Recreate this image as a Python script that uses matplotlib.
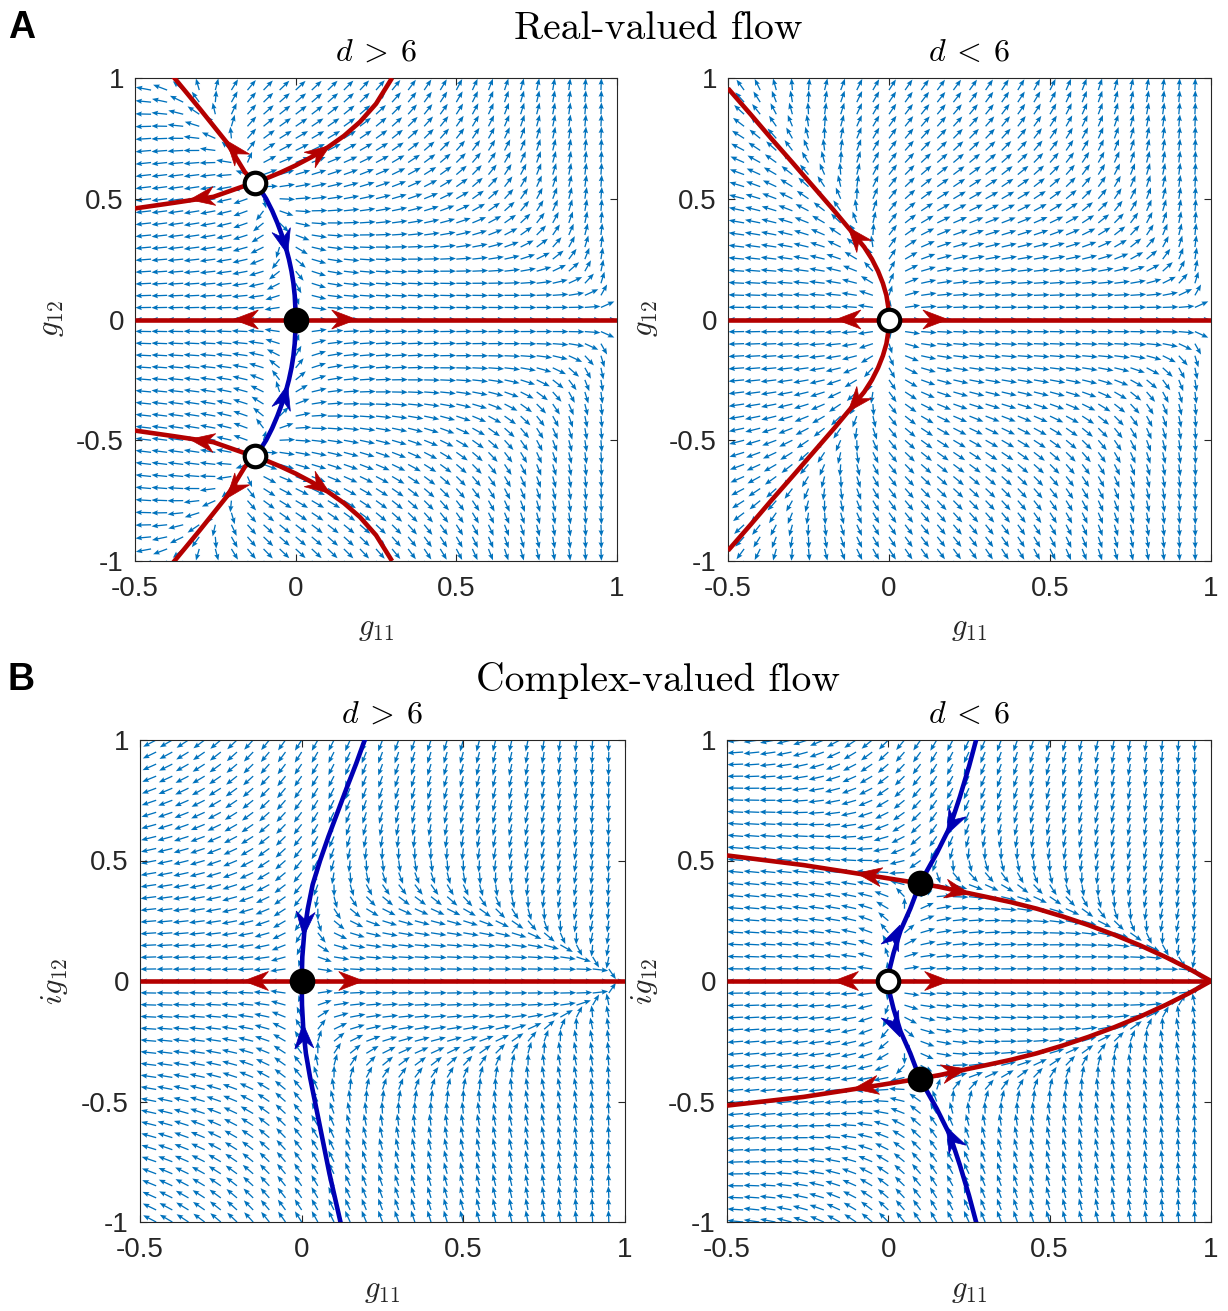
import numpy as np
import matplotlib
matplotlib.use("Agg")
import matplotlib.pyplot as plt
from matplotlib.patches import Polygon

plt.rcParams['mathtext.fontset'] = 'cm'
plt.rcParams['font.family'] = ['Liberation Sans', 'DejaVu Sans']

# ---------------- axes / ticks ----------------
x_lim = [-0.5, 1.0]
y_lim = [-1.0, 1.0]
x_ticks = [-0.5, 0, 0.5, 1]
x_tick_labels = ["-0.5", "0", "0.5", "1"]
y_ticks = [-1, -0.5, 0, 0.5, 1]
y_tick_labels = ["-1", "-0.5", "0", "0.5", "1"]

# quiver sample grid (g11, g12)
grid_x = np.round(np.arange(-0.5, 0.951, 0.05), 3)
grid_y = np.round(np.arange(-1.0, 1.001, 0.05), 3)

# flow model parameters (beta functions)
flow_a = 0.5
flow_c = 0.195
flow_m = 0.868
eps_sign = {"d>6": -1, "d<6": +1}
field_sign = {"real": +1, "complex": -1}

# ---------------- panel A left: real, d>6 ----------------
aL_open_x = [-0.127, -0.127]
aL_open_y = [0.567, -0.567]
aL_closed_x = [0.0]
aL_closed_y = [0.0]
aL_red_ul_x = [-0.127, -0.158, -0.215, -0.298, -0.381]
aL_red_ul_y = [0.567, 0.610, 0.734, 0.872, 1.006]
aL_red_ll_x = [-0.127, -0.158, -0.215, -0.298, -0.381]
aL_red_ll_y = [-0.567, -0.610, -0.734, -0.872, -1.006]
aL_red_l_x = [-0.127, -0.168, -0.256, -0.38, -0.5]
aL_red_l_y = [0.567, 0.549, 0.508, 0.483, 0.46]
aL_red_l2_x = [-0.127, -0.168, -0.256, -0.38, -0.5]
aL_red_l2_y = [-0.567, -0.549, -0.508, -0.483, -0.46]
aL_red_ur_x = [-0.127, -0.09, -0.05, 0.0, 0.05, 0.1, 0.15, 0.2, 0.25, 0.30]
aL_red_ur_y = [0.567, 0.585, 0.607, 0.638, 0.673, 0.713, 0.76, 0.818, 0.893, 1.0]
aL_red_lr_x = [-0.127, -0.09, -0.05, 0.0, 0.05, 0.1, 0.15, 0.2, 0.25, 0.30]
aL_red_lr_y = [-0.567, -0.585, -0.607, -0.638, -0.673, -0.713, -0.76, -0.818, -0.893, -1.0]
aL_blue_u_x = [-0.127, -0.111, -0.092, -0.073, -0.057, -0.043, -0.031, -0.021, -0.013, -0.007, -0.003, -0.001, 0.0]
aL_blue_u_y = [0.567, 0.54, 0.5, 0.45, 0.4, 0.35, 0.3, 0.25, 0.2, 0.15, 0.1, 0.05, 0.0]
aL_blue_d_x = [-0.127, -0.111, -0.092, -0.073, -0.057, -0.043, -0.031, -0.021, -0.013, -0.007, -0.003, -0.001, 0.0]
aL_blue_d_y = [-0.567, -0.54, -0.5, -0.45, -0.4, -0.35, -0.3, -0.25, -0.2, -0.15, -0.1, -0.05, 0.0]
# arrow tips: (curve, tip x, tip y, direction along curve)
aL_arrows = [("red_ul", -0.215, 0.741, 1), ("red_ll", -0.215, -0.741, 1),
             ("red_l", -0.33, 0.496, 1), ("red_l2", -0.33, -0.496, 1),
             ("red_ur", 0.107, 0.72, 1), ("red_lr", 0.107, -0.72, 1),
             ("blue_u", -0.025, 0.27, 1), ("blue_d", -0.025, -0.27, 1),
             ("axis", -0.194, 0.0, -1), ("axis", 0.19, 0.0, 1)]

# ---------------- panel A right: real, d<6 ----------------
aR_open_x = [0.0]
aR_open_y = [0.0]
aR_red_u_x = [0.0, -0.002, -0.008, -0.019, -0.034, -0.053, -0.077, -0.12, -0.17, -0.235, -0.3, -0.366, -0.43, -0.5]
aR_red_u_y = [0.0, 0.05, 0.1, 0.15, 0.2, 0.25, 0.3, 0.37, 0.45, 0.55, 0.65, 0.75, 0.85, 0.957]
aR_red_d_x = [0.0, -0.002, -0.008, -0.019, -0.034, -0.053, -0.077, -0.12, -0.17, -0.235, -0.3, -0.366, -0.43, -0.5]
aR_red_d_y = [0.0, -0.05, -0.1, -0.15, -0.2, -0.25, -0.3, -0.37, -0.45, -0.55, -0.65, -0.75, -0.85, -0.957]
aR_arrows = [("red_u", -0.127, 0.382, 1), ("red_d", -0.127, -0.382, 1),
             ("axis", -0.165, 0.0, -1), ("axis", 0.183, 0.0, 1)]

# ---------------- panel B left: complex, d>6 ----------------
bL_closed_x = [0.0]
bL_closed_y = [0.0]
bL_blue_u_x = [0.0, 0.002, 0.008, 0.019, 0.034, 0.057, 0.083, 0.111, 0.139, 0.168, 0.195, 0.198]
bL_blue_u_y = [0.0, 0.1, 0.2, 0.3, 0.4, 0.5, 0.6, 0.7, 0.8, 0.9, 1.0, 1.01]
bL_blue_d_x = [0.0, 0.001, 0.005, 0.013, 0.026, 0.041, 0.056, 0.071, 0.086, 0.103, 0.12, 0.122]
bL_blue_d_y = [0.0, -0.1, -0.2, -0.3, -0.4, -0.5, -0.6, -0.7, -0.8, -0.9, -1.0, -1.01]
bL_arrows = [("blue_u", 0.006, 0.184, -1), ("blue_d", 0.004, -0.176, -1),
             ("axis", -0.18, 0.0, -1), ("axis", 0.192, 0.0, 1)]

# ---------------- panel B right: complex, d<6 ----------------
bR_open_x = [0.0]
bR_open_y = [0.0]
bR_closed_x = [0.098, 0.098]
bR_closed_y = [0.405, -0.405]
bR_red_lu_x = [0.098, -0.067, -0.263, -0.5]
bR_red_lu_y = [0.405, 0.44, 0.481, 0.521]
bR_red_ld_x = [0.098, -0.088, -0.263, -0.5]
bR_red_ld_y = [-0.405, -0.445, -0.481, -0.517]
bR_red_ru_x = [0.098, 0.16, 0.222, 0.3, 0.38, 0.46, 0.54, 0.62, 0.70, 0.78, 0.86, 0.93, 1.0]
bR_red_ru_y = [0.405, 0.39, 0.372, 0.35, 0.327, 0.30, 0.268, 0.232, 0.192, 0.148, 0.099, 0.052, 0.0]
bR_red_rd_x = [0.098, 0.16, 0.222, 0.3, 0.38, 0.46, 0.54, 0.62, 0.70, 0.78, 0.86, 0.93, 1.0]
bR_red_rd_y = [-0.405, -0.39, -0.372, -0.35, -0.327, -0.30, -0.268, -0.232, -0.192, -0.148, -0.099, -0.052, 0.0]
bR_blue_lu_x = [0.0, 0.004, 0.016, 0.038, 0.068, 0.098]
bR_blue_lu_y = [0.0, 0.05, 0.115, 0.21, 0.30, 0.405]
bR_blue_ld_x = [0.0, 0.004, 0.016, 0.038, 0.068, 0.098]
bR_blue_ld_y = [0.0, -0.05, -0.115, -0.21, -0.30, -0.405]
bR_blue_uu_x = [0.098, 0.150, 0.191, 0.222, 0.25, 0.272, 0.275]
bR_blue_uu_y = [0.405, 0.53, 0.64, 0.765, 0.89, 1.0, 1.01]
bR_blue_dd_x = [0.098, 0.150, 0.191, 0.222, 0.25, 0.272, 0.275]
bR_blue_dd_y = [-0.405, -0.53, -0.64, -0.765, -0.89, -1.0, -1.01]
bR_arrows = [("red_lu", -0.098, 0.447, 1), ("red_ld", -0.108, -0.447, 1),
             ("red_ru", 0.253, 0.362, 1), ("red_rd", 0.243, -0.365, 1),
             ("blue_lu", 0.036, 0.232, 1), ("blue_ld", 0.036, -0.232, 1),
             ("blue_uu", 0.18, 0.606, -1), ("blue_dd", 0.18, -0.606, -1),
             ("axis", -0.17, 0.0, -1), ("axis", 0.19, 0.0, 1)]

axis_line_x = [-0.5, 1.0]
axis_line_y = [0.0, 0.0]

# ---------------- styles ----------------
RED = '#B40000'
BLUE = '#0000B4'
QCOL = '#0072BD'
TXT = '#262626'
W, H = 1228, 1311


def flow(X, Y, e, sgn):
    T = sgn * Y ** 2 / (1 - X) ** 2
    U = (1 - X) * (X + flow_a * T)
    V = Y * (e * flow_c * (1 - X) + flow_m * T)
    return U, V


def make_ax(fig, px_left, px_right, px_top, px_bottom):
    ax = fig.add_axes([px_left / W, 1 - px_bottom / H,
                       (px_right - px_left) / W, (px_bottom - px_top) / H])
    ax.set_xlim(x_lim)
    ax.set_ylim(y_lim)
    ax.set_xticks(x_ticks)
    ax.set_xticklabels(x_tick_labels)
    ax.set_yticks(y_ticks)
    ax.set_yticklabels(y_tick_labels)
    ax.tick_params(direction='in', top=True, right=True, length=5, width=0.8,
                   labelsize=20, colors=TXT)
    ax.tick_params(axis='x', pad=11)
    ax.tick_params(axis='y', pad=8)
    for s in ax.spines.values():
        s.set_linewidth(0.8)
        s.set_color(TXT)
    return ax


def draw_field(ax, e, sgn):
    X, Y = np.meshgrid(grid_x, grid_y)
    U, V = flow(X, Y, e, sgn)
    mag = np.hypot(U, V)
    L = 0.049
    f = L / np.sqrt(mag ** 2 + 0.012 ** 2)
    ax.quiver(X, Y, U * f, V * f, angles='xy', scale_units='xy', scale=1,
              color=QCOL, units='dots', width=1.3, headwidth=4.0,
              headlength=5.0, headaxislength=4.4, zorder=1)


def head(ax, cx, cy, tx, ty, sgn, color, L=25, Wd=9.5, notch=0.32):
    pts = ax.transData.transform(np.column_stack([cx, cy]))
    T = ax.transData.transform([[tx, ty]])[0]
    best = None
    for i in range(len(pts) - 1):
        p, q = pts[i], pts[i + 1]
        d = q - p
        l2 = d @ d
        if l2 == 0:
            continue
        tt = np.clip((T - p) @ d / l2, 0, 1)
        dist = np.linalg.norm(T - (p + tt * d))
        if best is None or dist < best[0]:
            best = (dist, d / np.sqrt(l2))
    u = best[1] * sgn
    n = np.array([-u[1], u[0]])
    poly = np.array([T, T - L * u + Wd * n, T - (1 - notch) * L * u, T - L * u - Wd * n])
    data = ax.transData.inverted().transform(poly)
    ax.add_patch(Polygon(data, closed=True, facecolor=color, edgecolor=color,
                         lw=0.5, zorder=4, clip_on=False))


def draw_curves(ax, curves, arrows):
    for name, (cx, cy, col) in curves.items():
        ax.plot(cx, cy, color=col, lw=3.3, zorder=3, solid_capstyle='butt',
                solid_joinstyle='round')
    for name, tx, ty, sg in arrows:
        cx, cy, col = curves[name]
        head(ax, cx, cy, tx, ty, sg, col)


def draw_fp(ax, xs, ys, filled):
    ax.plot(xs, ys, 'o', ms=15.5, mew=3.0, mec='k', mfc='k' if filled else 'white',
            zorder=5, clip_on=False, linestyle='none')


fig = plt.figure(figsize=(W / 100, H / 100), dpi=100)

# Panel A left
ax1 = make_ax(fig, 135, 617, 78, 561)
draw_field(ax1, eps_sign["d>6"], field_sign["real"])
draw_curves(ax1, {
    "axis": (axis_line_x, axis_line_y, RED),
    "red_ul": (aL_red_ul_x, aL_red_ul_y, RED), "red_ll": (aL_red_ll_x, aL_red_ll_y, RED),
    "red_l": (aL_red_l_x, aL_red_l_y, RED), "red_l2": (aL_red_l2_x, aL_red_l2_y, RED),
    "red_ur": (aL_red_ur_x, aL_red_ur_y, RED), "red_lr": (aL_red_lr_x, aL_red_lr_y, RED),
    "blue_u": (aL_blue_u_x, aL_blue_u_y, BLUE), "blue_d": (aL_blue_d_x, aL_blue_d_y, BLUE),
}, aL_arrows)
draw_fp(ax1, aL_open_x, aL_open_y, False)
draw_fp(ax1, aL_closed_x, aL_closed_y, True)

# Panel A right
ax2 = make_ax(fig, 728, 1211, 78, 561)
draw_field(ax2, eps_sign["d<6"], field_sign["real"])
draw_curves(ax2, {
    "axis": (axis_line_x, axis_line_y, RED),
    "red_u": (aR_red_u_x, aR_red_u_y, RED), "red_d": (aR_red_d_x, aR_red_d_y, RED),
}, aR_arrows)
draw_fp(ax2, aR_open_x, aR_open_y, False)

# Panel B left
ax3 = make_ax(fig, 140, 625, 740, 1222)
draw_field(ax3, eps_sign["d>6"], field_sign["complex"])
draw_curves(ax3, {
    "axis": (axis_line_x, axis_line_y, RED),
    "blue_u": (bL_blue_u_x, bL_blue_u_y, BLUE), "blue_d": (bL_blue_d_x, bL_blue_d_y, BLUE),
}, bL_arrows)
draw_fp(ax3, bL_closed_x, bL_closed_y, True)

# Panel B right
ax4 = make_ax(fig, 727, 1211, 740, 1222)
draw_field(ax4, eps_sign["d<6"], field_sign["complex"])
draw_curves(ax4, {
    "axis": (axis_line_x, axis_line_y, RED),
    "red_lu": (bR_red_lu_x, bR_red_lu_y, RED), "red_ld": (bR_red_ld_x, bR_red_ld_y, RED),
    "red_ru": (bR_red_ru_x, bR_red_ru_y, RED), "red_rd": (bR_red_rd_x, bR_red_rd_y, RED),
    "blue_lu": (bR_blue_lu_x, bR_blue_lu_y, BLUE), "blue_ld": (bR_blue_ld_x, bR_blue_ld_y, BLUE),
    "blue_uu": (bR_blue_uu_x, bR_blue_uu_y, BLUE), "blue_dd": (bR_blue_dd_x, bR_blue_dd_y, BLUE),
}, bR_arrows)
draw_fp(ax4, bR_open_x, bR_open_y, False)
draw_fp(ax4, bR_closed_x, bR_closed_y, True)

# ---------------- texts ----------------
def ftext(px, py, s, **kw):
    fig.text(px / W, 1 - py / H, s, **kw)

ftext(8, 38, "A", fontsize=27, fontweight='bold', va='baseline', ha='left', color='k')
ftext(8, 690, "B", fontsize=27, fontweight='bold', va='baseline', ha='left', color='k')
ftext(658, 39, "Real-valued flow", family='cmr10', fontsize=28.5, ha='center', va='baseline', color='k')
ftext(658, 691, "Complex-valued flow", family='cmr10', fontsize=28.5, ha='center', va='baseline', color='k')

ftext(376, 61, r"$d\:>\:6$", fontsize=23, ha='center', va='baseline', color='k')
ftext(969, 61, r"$d\:<\:6$", fontsize=23, ha='center', va='baseline', color='k')
ftext(382, 723, r"$d\:>\:6$", fontsize=23, ha='center', va='baseline', color='k')
ftext(969, 723, r"$d\:<\:6$", fontsize=23, ha='center', va='baseline', color='k')

ftext(376, 628, r"$g_{11}$", fontsize=22, ha='center', va='center', color=TXT)
ftext(969, 628, r"$g_{11}$", fontsize=22, ha='center', va='center', color=TXT)
ftext(382, 1290, r"$g_{11}$", fontsize=22, ha='center', va='center', color=TXT)
ftext(969, 1290, r"$g_{11}$", fontsize=22, ha='center', va='center', color=TXT)

ftext(51, 319, r"$g_{12}$", fontsize=22, ha='center', va='center', rotation=90, color=TXT)
ftext(645, 319, r"$g_{12}$", fontsize=22, ha='center', va='center', rotation=90, color=TXT)
ftext(54, 981, r"$ig_{12}$", fontsize=22, ha='center', va='center', rotation=90, color=TXT)
ftext(644, 981, r"$ig_{12}$", fontsize=22, ha='center', va='center', rotation=90, color=TXT)

fig.savefig("out.png", dpi=100)
